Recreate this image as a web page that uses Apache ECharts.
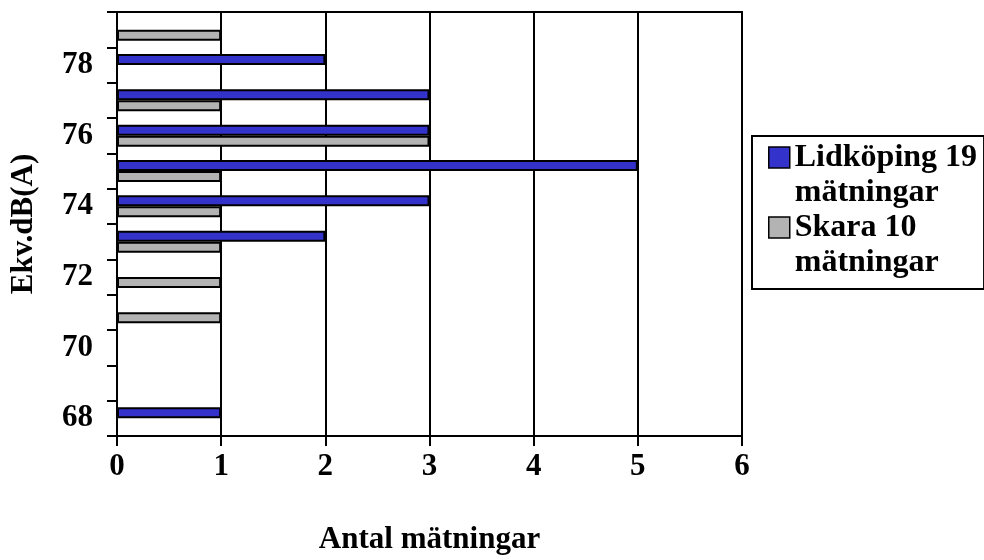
<!DOCTYPE html>
<html>
<head>
<meta charset="utf-8">
<script src="https://cdn.jsdelivr.net/npm/echarts@6/dist/echarts.min.js"></script>
<style>
html,body{margin:0;padding:0;background:#fff;}
#chart{width:984px;height:560px;}
</style>
</head>
<body>
<div id="chart"></div>
<script>
const categories = ['68','69','70','71','72','73','74','75','76','77','78','79'];
const lidkoping = [1,0,0,0,0,2,3,5,3,3,2,0];
const skara = [0,0,0,1,1,1,1,1,3,1,0,1];
const seriesNames = ['Lidköping 19\nmätningar', 'Skara 10\nmätningar'];
const xTicks = [0,1,2,3,4,5,6];

const FONT = "'Liberation Serif', 'Times New Roman', serif";
const chart = echarts.init(document.getElementById('chart'), null, {renderer:'canvas'});
const LH = 35;
chart.setOption({
  animation:false,
  backgroundColor:'#ffffff',
  grid:{left:115,right:242,top:12,bottom:120,show:true,borderColor:'#000',borderWidth:2,backgroundColor:'transparent'},
  xAxis:{
    type:'value',min:xTicks[0],max:xTicks[xTicks.length-1],interval:1,
    name:'Antal mätningar',nameLocation:'middle',nameGap:88,
    nameTextStyle:{fontFamily:FONT,fontWeight:'bold',fontSize:31,color:'#000'},
    axisLine:{show:true,lineStyle:{color:'#000',width:2}},
    axisTick:{show:true,length:10,lineStyle:{color:'#000',width:2}},
    axisLabel:{margin:15,fontFamily:FONT,fontWeight:'bold',fontSize:31,color:'#000'},
    splitLine:{show:true,lineStyle:{color:'#000',width:2}}
  },
  yAxis:{
    type:'category',data:categories,
    name:'Ekv.dB(A)',nameLocation:'middle',nameGap:78,nameRotate:90,
    nameTextStyle:{fontFamily:FONT,fontWeight:'bold',fontSize:31,color:'#000'},
    axisLine:{show:true,lineStyle:{color:'#000',width:2}},
    axisTick:{show:true,interval:0,length:10,lineStyle:{color:'#000',width:2}},
    axisLabel:{interval:1,margin:24,fontFamily:FONT,fontWeight:'bold',fontSize:31,color:'#000'},
    splitLine:{show:false}
  },
  legend:{
    orient:'vertical',left:752,top:136,
    padding:[4,7,9,16],itemGap:0,
    itemWidth:21,itemHeight:21+LH,
    icon:'path://M0,0H21V21H0Z M0,' + (21+LH),
    borderColor:'#000',borderWidth:2,backgroundColor:'#fff',
    textStyle:{fontFamily:FONT,fontWeight:'bold',fontSize:32,color:'#000',lineHeight:LH},
    itemStyle:{borderColor:'#000',borderWidth:1.5},
    data:seriesNames
  },
  series:[
    {name:seriesNames[0],type:'bar',data:lidkoping,barWidth:11,barGap:'0%',
     itemStyle:{color:'#3333CC',borderColor:'#000',borderWidth:2}},
    {name:seriesNames[1],type:'bar',data:skara,barWidth:11,barGap:'0%',
     itemStyle:{color:'#B3B3B3',borderColor:'#000',borderWidth:2}}
  ]
});
</script>
</body>
</html>
